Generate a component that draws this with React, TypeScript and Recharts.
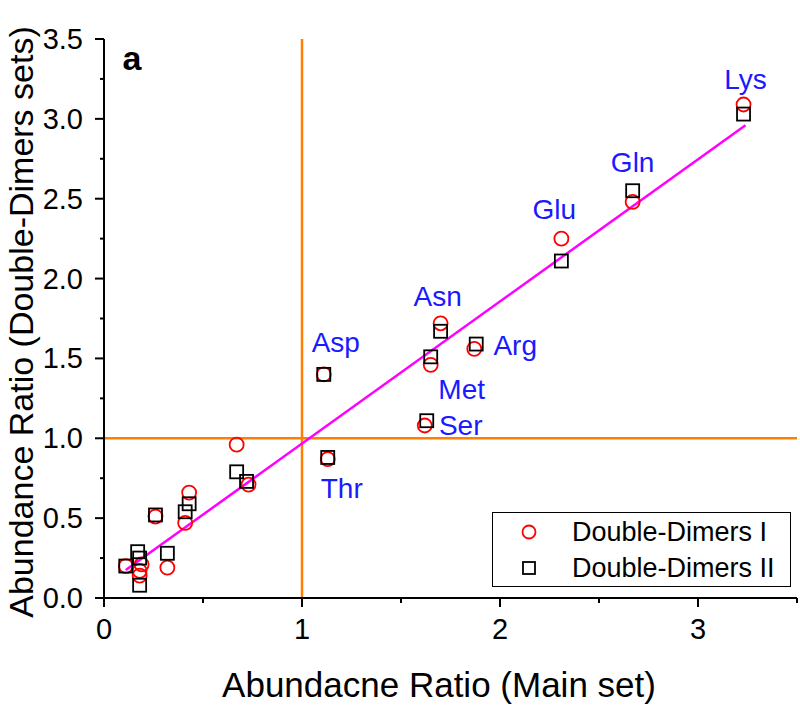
import React from 'react'
import { ScatterChart, Scatter, XAxis, YAxis, ReferenceLine, Legend } from 'recharts'

// Double-Dimers I (red circles)
const setIX = [0.11, 0.18, 0.18, 0.19, 0.26, 0.32, 0.41, 0.43, 0.67, 0.73, 1.11, 1.13, 1.62, 1.65, 1.7, 1.87, 2.31, 2.67, 3.23]
const setIY = [0.2, 0.17, 0.14, 0.21, 0.51, 0.19, 0.47, 0.66, 0.96, 0.71, 1.4, 0.87, 1.08, 1.46, 1.72, 1.56, 2.25, 2.48, 3.09]

// Double-Dimers II (black squares)
const setIIX = [0.11, 0.17, 0.18, 0.18, 0.26, 0.32, 0.41, 0.43, 0.67, 0.72, 1.11, 1.13, 1.63, 1.65, 1.7, 1.88, 2.31, 2.67, 3.23]
const setIIY = [0.2, 0.29, 0.25, 0.08, 0.52, 0.28, 0.54, 0.59, 0.79, 0.73, 1.4, 0.88, 1.11, 1.51, 1.67, 1.59, 2.11, 2.55, 3.03]
const aminoNames = ['', '', '', '', '', '', '', '', '', '', 'Asp', 'Thr', 'Ser', 'Met', 'Asn', 'Arg', 'Glu', 'Gln', 'Lys']

// linear fit ends
const fitX = [0.11, 3.24]
const fitY = [0.175, 2.96]

const xTicks = [0, 0.5, 1, 1.5, 2, 2.5, 3, 3.5]
const yTicks = [0, 0.25, 0.5, 0.75, 1, 1.25, 1.5, 1.75, 2, 2.25, 2.5, 2.75, 3, 3.25, 3.5]

const seriesNames = ['Double-Dimers I', 'Double-Dimers II']

const FONT = '"Liberation Sans", Arial, sans-serif'
const ORANGE = '#ff8000'
const BLUE = '#1a1aff'

// pixel offsets of the amino-acid labels from their square
const labelOffset: Record<string, [number, number]> = {
  Asp: [12, -32],
  Thr: [14, 31],
  Ser: [34, 5],
  Met: [31, 33],
  Asn: [-3, -35],
  Arg: [39, 1],
  Glu: [-7, -52],
  Gln: [0, -28],
  Lys: [2, -35],
}

const dataI = setIX.map((x, i) => ({ x, y: setIY[i] }))
const dataII = setIIX.map((x, i) => ({ x, y: setIIY[i], name: aminoNames[i] }))
const labelData = dataII.filter((d) => d.name !== '')

const circleShape = (p: any) => (
  <circle cx={p.cx} cy={p.cy} r={7} fill="none" stroke="#ff0000" strokeWidth={1.8} />
)
const squareShape = (p: any) => (
  <rect x={p.cx - 6.5} y={p.cy - 6.5} width={13} height={13} fill="none" stroke="#000" strokeWidth={1.8} />
)
const labelShape = (p: any) => {
  const name = p.payload?.name ?? ''
  const [dx, dy] = labelOffset[name] ?? [0, 0]
  return (
    <text x={p.cx + dx} y={p.cy + dy} textAnchor="middle" dominantBaseline="central" fontSize={28} fontFamily={FONT} fill={BLUE}>
      {name}
    </text>
  )
}

const XTick = (p: any) => {
  const v = p.payload.value
  const major = Number.isInteger(v)
  return (
    <g>
      <line x1={p.x} x2={p.x} y1={p.y} y2={p.y + (major ? 9 : 5)} stroke="#000" strokeWidth={2} />
      {major && (
        <text x={p.x} y={p.y + 31} textAnchor="middle" dominantBaseline="central" fontSize={29} fontFamily={FONT} fill="#000">
          {v}
        </text>
      )}
    </g>
  )
}

const YTick = (p: any) => {
  const v = p.payload.value
  const major = Math.abs(v * 2 - Math.round(v * 2)) < 1e-6
  return (
    <g>
      <line x1={p.x - (major ? 9 : 4)} x2={p.x} y1={p.y} y2={p.y} stroke="#000" strokeWidth={2} />
      {major && (
        <text x={p.x - 21} y={p.y} textAnchor="end" dominantBaseline="central" fontSize={29} fontFamily={FONT} fill="#000">
          {v.toFixed(1)}
        </text>
      )}
    </g>
  )
}

const renderLegend = () => (
  <div
    style={{
      width: 299,
      height: 75,
      boxSizing: 'border-box',
      border: '1.5px solid #000',
      background: '#fff',
      position: 'relative',
    }}
  >
    <svg width={297} height={73} style={{ position: 'absolute', left: 0, top: 0 }}>
      <circle cx={36} cy={19} r={6.5} fill="none" stroke="#ff0000" strokeWidth={1.8} />
      <rect x={30} y={49} width={12} height={12} fill="none" stroke="#000" strokeWidth={1.8} />
      <text x={79} y={19} dominantBaseline="central" fontSize={27} fontFamily={FONT} fill="#000">
        {seriesNames[0]}
      </text>
      <text x={79} y={55} dominantBaseline="central" fontSize={27} fontFamily={FONT} fill="#000">
        {seriesNames[1]}
      </text>
    </svg>
  </div>
)

export default function App() {
  return (
    <div style={{ position: 'absolute', left: 0, top: 0, width: 800, height: 705, background: '#fff' }}>
      <ScatterChart width={800} height={705} margin={{ top: 39, right: 3, bottom: 67, left: 44 }}>
        <XAxis
          type="number"
          dataKey="x"
          domain={[0, 3.5]}
          ticks={xTicks}
          interval={0}
          height={40}
          tickSize={0}
          tickMargin={0}
          tickLine={false}
          tick={<XTick />}
          axisLine={{ stroke: '#000', strokeWidth: 2 }}
          allowDataOverflow
        />
        <YAxis
          type="number"
          dataKey="y"
          domain={[0, 3.5]}
          ticks={yTicks}
          interval={0}
          width={60}
          tickSize={0}
          tickMargin={0}
          tickLine={false}
          tick={<YTick />}
          axisLine={{ stroke: '#000', strokeWidth: 2 }}
          allowDataOverflow
        />
        <ReferenceLine x={1} stroke={ORANGE} strokeWidth={2.5} />
        <ReferenceLine y={1} stroke={ORANGE} strokeWidth={2.5} />
        <ReferenceLine
          segment={[
            { x: fitX[0], y: fitY[0] },
            { x: fitX[1], y: fitY[1] },
          ]}
          stroke="#ff00ff"
          strokeWidth={2.5}
        />
        <Scatter name={seriesNames[0]} data={dataI} shape={circleShape} isAnimationActive={false} />
        <Scatter name={seriesNames[1]} data={dataII} shape={squareShape} isAnimationActive={false} />
        <Scatter name="labels" data={labelData} shape={labelShape} isAnimationActive={false} legendType="none" />
        <Legend
          layout="vertical"
          align="center"
          verticalAlign="middle"
          content={renderLegend}
          wrapperStyle={{ left: 492, top: 512, width: 299, height: 75 }}
        />
      </ScatterChart>
      <svg width={800} height={705} style={{ position: 'absolute', left: 0, top: 0, pointerEvents: 'none' }}>
        <text x={132} y={70} textAnchor="middle" fontSize={34} fontWeight="bold" fontFamily={FONT} fill="#000">
          a
        </text>
        <text x={439} y={697} textAnchor="middle" fontSize={35} fontFamily={FONT} fill="#000">
          Abundacne Ratio (Main set)
        </text>
        <text x={33} y={322} transform="rotate(-90 33 322)" textAnchor="middle" fontSize={34} fontFamily={FONT} fill="#000">
          Abundance Ratio (Double-Dimers sets)
        </text>
      </svg>
    </div>
  )
}
